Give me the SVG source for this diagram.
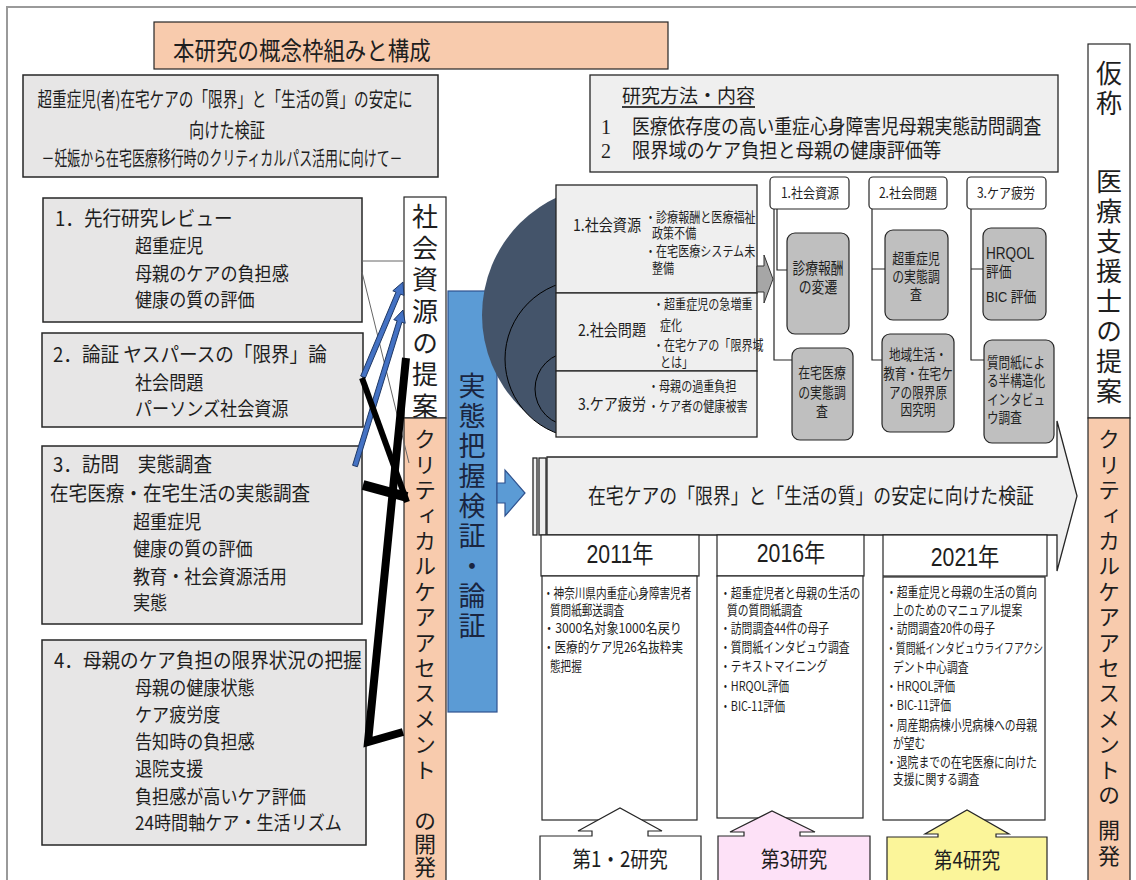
<svg xmlns="http://www.w3.org/2000/svg" width="1136" height="880" viewBox="0 0 1136 880">
<defs>
<style>
text { font-family: "Noto Sans CJK JP", "Noto Sans CJK SC", "Noto Sans", "DejaVu Sans", sans-serif; fill: #1e1e1e; }
.ser { font-family: "Liberation Serif", "Noto Sans CJK JP", serif; }
.yr { font-family: "Liberation Sans", "Noto Sans CJK JP", sans-serif; }
.box { fill: #e7e6e6; stroke: #262626; stroke-width: 1.5; }
.lbox { fill: #efefef; stroke: #262626; stroke-width: 1.3; }
.peach { fill: #f8cbad; stroke: #262626; stroke-width: 1.2; }
.white { fill: #ffffff; stroke: #262626; stroke-width: 1.2; }
.gbox { fill: #bfbfbf; stroke: #262626; stroke-width: 1.2; }
.vt { writing-mode: vertical-rl; }
.blk { stroke: #000; fill: none; }
.thin { stroke: #666; stroke-width: 1; fill: none; }
.con { stroke: #262626; stroke-width: 1.2; fill: none; }
.barrow { fill: #4472c4; stroke: #1f3864; stroke-width: 1; }
.semi { fill: #44546a; }
.semio { fill: #44546a; stroke: #000; stroke-width: 1; }
</style>
<clipPath id="lc"><rect x="0" y="0" width="557" height="880"/></clipPath>
</defs>
<rect width="1136" height="880" fill="#ffffff"/>
<rect x="7" y="7" width="1140" height="880" fill="none" stroke="#9a9a9a" stroke-width="2"/>

<g id="title">
<rect x="154" y="22" width="514" height="47" class="peach"/>
<text transform="translate(173 60) scale(0.86 1)" font-size="25">本研究の概念枠組みと構成</text>
</g>

<g id="subtitle">
<rect x="23" y="75" width="415" height="102" class="box"/>
<text x="225" y="107" font-size="20" text-anchor="middle" textLength="375" lengthAdjust="spacingAndGlyphs">超重症児(者)在宅ケアの「限界」と「生活の質」の安定に</text>
<text x="227" y="138" font-size="20" text-anchor="middle" textLength="76" lengthAdjust="spacingAndGlyphs">向けた検証</text>
<text x="222" y="166" font-size="20" text-anchor="middle" textLength="361" lengthAdjust="spacingAndGlyphs">－妊娠から在宅医療移行時のクリティカルパス活用に向けて－</text>
</g>

<g id="method">
<rect x="590" y="75" width="468" height="97" class="lbox"/>
<text x="622" y="103" font-size="19">研究方法・内容</text>
<line x1="622" y1="107" x2="755" y2="107" stroke="#000" stroke-width="1.5"/>
<text class="ser" x="601" y="134" font-size="20">1</text>
<text transform="translate(632 134) scale(0.89 1)" font-size="20">医療依存度の高い重症心身障害児母親実態訪問調査</text>
<text class="ser" x="601" y="158" font-size="20">2</text>
<text transform="translate(632 158) scale(0.91 1)" font-size="20">限界域のケア負担と母親の健康評価等</text>
</g>

<g id="review">
<rect x="43" y="198" width="319" height="124" class="box"/>
<text transform="translate(55 226) scale(0.93 1)" font-size="20">1．先行研究レビュー</text>
<text transform="translate(135 253) scale(0.9 1)" font-size="19">超重症児</text>
<text transform="translate(135 281) scale(0.9 1)" font-size="19">母親のケアの負担感</text>
<text transform="translate(135 307) scale(0.9 1)" font-size="19">健康の質の評価</text>
</g>

<g id="argument">
<rect x="42" y="333" width="321" height="94" class="box"/>
<text transform="translate(53 362) scale(0.93 1)" font-size="20">2．論証 ヤスパースの「限界」論</text>
<text transform="translate(135 390) scale(0.9 1)" font-size="19">社会問題</text>
<text transform="translate(135 416) scale(0.9 1)" font-size="19">パーソンズ社会資源</text>
</g>

<g id="visit">
<rect x="42" y="446" width="320" height="178" class="box"/>
<text transform="translate(53 472) scale(0.93 1)" font-size="20">3．訪問　実態調査</text>
<text transform="translate(50 501) scale(0.93 1)" font-size="20">在宅医療・在宅生活の実態調査</text>
<text transform="translate(133 529) scale(0.9 1)" font-size="19">超重症児</text>
<text transform="translate(133 556) scale(0.9 1)" font-size="19">健康の質の評価</text>
<text transform="translate(133 584) scale(0.9 1)" font-size="19">教育・社会資源活用</text>
<text transform="translate(133 610) scale(0.9 1)" font-size="19">実態</text>
</g>

<g id="limit">
<rect x="42" y="640" width="324" height="205" class="box"/>
<text transform="translate(54 668) scale(0.93 1)" font-size="20">4．母親のケア負担の限界状況の把握</text>
<text transform="translate(135 695) scale(0.9 1)" font-size="19">母親の健康状態</text>
<text transform="translate(135 722) scale(0.9 1)" font-size="19">ケア疲労度</text>
<text transform="translate(135 749) scale(0.9 1)" font-size="19">告知時の負担感</text>
<text transform="translate(135 776) scale(0.9 1)" font-size="19">退院支援</text>
<text transform="translate(135 804) scale(0.9 1)" font-size="19">負担感が高いケア評価</text>
<text transform="translate(135 830) scale(0.9 1)" font-size="19">24時間軸ケア・生活リズム</text>
</g>

<g id="col-resource">
<rect x="404" y="197" width="42" height="221" class="white"/>
<text class="vt" x="425" y="203" font-size="26" letter-spacing="5.7">社会資源の提案</text>
</g>
<g id="col-assess">
<rect x="404" y="418" width="42" height="470" class="peach"/>
<text class="vt" x="425" y="428" font-size="22" letter-spacing="3.4">クリティカルケアアセスメント</text>
<text class="vt" x="425" y="810" font-size="22" letter-spacing="1">の開発</text>
</g>
<g id="col-verify">
<rect x="448" y="291" width="49" height="421" fill="#5b9bd5" stroke="#2f528f" stroke-width="1.2"/>
<text class="vt" x="472" y="372" font-size="27" letter-spacing="3" style="fill:#1a2540">実態把握検証・論証</text>
<polygon points="497,483 505,483 505,470 525,493 505,516 505,503 497,503" fill="#5b9bd5" stroke="#2f528f" stroke-width="1.2"/>
</g>

<g id="connectors">
<line x1="362" y1="261" x2="403" y2="261" class="thin"/>
<line x1="362" y1="272" x2="409" y2="463" class="thin"/>
<polygon class="barrow" points="365.3,378 400.6,294.1 403.9,295.4 403,282 392.8,290.8 396,292.1 360.7,376"/>
<polygon class="barrow" points="357.4,466.7 401.9,322.2 405.2,323.3 403,310 393.8,319.7 397.1,320.8 352.6,465.3"/>
<line x1="362" y1="378" x2="407" y2="502" class="blk" stroke-width="6"/>
<polyline points="406,358 368,742 403,732" class="blk" stroke-width="8"/>
<line x1="363" y1="485" x2="407" y2="497" class="blk" stroke-width="10"/>
</g>

<g id="semicircles" clip-path="url(#lc)">
<circle cx="612" cy="315" r="130" class="semi"/>
<circle cx="584" cy="359" r="79" class="semio"/>
<circle cx="572" cy="389" r="37" class="semio"/>
</g>

<g id="issue-resource">
<rect x="556" y="185" width="201" height="108" class="lbox"/>
<text transform="translate(573 231) scale(0.88 1)" font-size="16">1.社会資源</text>
<text transform="translate(645 222) scale(0.82 1)" font-size="13.5">・診療報酬と医療福祉</text>
<text transform="translate(652 238) scale(0.82 1)" font-size="13.5">政策不備</text>
<text transform="translate(645 256) scale(0.82 1)" font-size="13.5">・在宅医療システム未</text>
<text transform="translate(652 273) scale(0.82 1)" font-size="13.5">整備</text>
</g>
<g id="issue-social">
<rect x="556" y="293" width="201" height="78" class="lbox"/>
<text transform="translate(578 336) scale(0.88 1)" font-size="16">2.社会問題</text>
<text transform="translate(653 309) scale(0.82 1)" font-size="13.5">・超重症児の急増重</text>
<text transform="translate(660 330) scale(0.82 1)" font-size="13.5">症化</text>
<text transform="translate(653 350) scale(0.82 1)" font-size="13.5">・在宅ケアの「限界域</text>
<text transform="translate(660 367) scale(0.82 1)" font-size="13.5">とは」</text>
</g>
<g id="issue-fatigue">
<rect x="556" y="371" width="201" height="66" class="lbox"/>
<text transform="translate(578 410) scale(0.88 1)" font-size="16">3.ケア疲労</text>
<text transform="translate(648 391) scale(0.82 1)" font-size="13.5">・母親の過重負担</text>
<text transform="translate(648 411) scale(0.82 1)" font-size="13.5">・ケア者の健康被害</text>
</g>
<g id="gray-arrow">
<polygon points="757,266 764,266 764,255 773,279 764,303 764,292 757,292" fill="#a6a6a6" stroke="#333" stroke-width="1"/>
</g>

<g id="tree-lines">
<path class="con" d="M777 209 V270 H787 M774 209 V360 H792 M872 209 V360 H888 M872 269 H885 M971 209 V360 H984 M971 269 H983"/>
</g>
<g id="h-resource">
<rect x="770" y="177" width="79" height="32" rx="4" class="white"/>
<text transform="translate(810 198) scale(0.86 1)" font-size="14" text-anchor="middle">1.社会資源</text>
</g>
<g id="h-social">
<rect x="869" y="177" width="78" height="32" rx="4" class="white"/>
<text transform="translate(908 198) scale(0.86 1)" font-size="14" text-anchor="middle">2.社会問題</text>
</g>
<g id="h-fatigue">
<rect x="967" y="177" width="79" height="32" rx="4" class="white"/>
<text transform="translate(1006 198) scale(0.86 1)" font-size="14" text-anchor="middle">3.ケア疲労</text>
</g>
<g id="c-fee">
<rect x="787" y="233" width="62" height="101" rx="8" class="gbox"/>
<text transform="translate(818 274) scale(0.8 1)" font-size="16" text-anchor="middle">診療報酬</text>
<text transform="translate(818 293) scale(0.8 1)" font-size="16" text-anchor="middle">の変遷</text>
</g>
<g id="c-homecare">
<rect x="792" y="348" width="61" height="92" rx="8" class="gbox"/>
<text transform="translate(822 378) scale(0.82 1)" font-size="14.5" text-anchor="middle">在宅医療</text>
<text transform="translate(822 398) scale(0.82 1)" font-size="14.5" text-anchor="middle">の実態調</text>
<text transform="translate(822 417) scale(0.82 1)" font-size="14.5" text-anchor="middle">査</text>
</g>
<g id="c-survey">
<rect x="885" y="230" width="63" height="90" rx="8" class="gbox"/>
<text transform="translate(916 264) scale(0.82 1)" font-size="14.5" text-anchor="middle">超重症児</text>
<text transform="translate(916 282) scale(0.82 1)" font-size="14.5" text-anchor="middle">の実態調</text>
<text transform="translate(916 300) scale(0.82 1)" font-size="14.5" text-anchor="middle">査</text>
</g>
<g id="c-region">
<rect x="882" y="334" width="72" height="98" rx="8" class="gbox"/>
<text transform="translate(918 360) scale(0.8 1)" font-size="14.5" text-anchor="middle">地域生活・</text>
<text transform="translate(918 379) scale(0.8 1)" font-size="14.5" text-anchor="middle">教育・在宅ケ</text>
<text transform="translate(918 398) scale(0.8 1)" font-size="14.5" text-anchor="middle">アの限界原</text>
<text transform="translate(918 415) scale(0.8 1)" font-size="14.5" text-anchor="middle">因究明</text>
</g>
<g id="c-hrqol">
<rect x="983" y="228" width="63" height="92" rx="8" class="gbox"/>
<text class="yr" transform="translate(986 259) scale(0.85 1)" font-size="16">HRQOL</text>
<text transform="translate(986 277) scale(0.85 1)" font-size="15">評価</text>
<text class="yr" transform="translate(986 302) scale(0.85 1)" font-size="15">BIC 評価</text>
</g>
<g id="c-interview">
<rect x="984" y="340" width="70" height="103" rx="8" class="gbox"/>
<text transform="translate(987 368) scale(0.8 1)" font-size="14.5">質問紙によ</text>
<text transform="translate(987 386) scale(0.8 1)" font-size="14.5">る半構造化</text>
<text transform="translate(987 405) scale(0.8 1)" font-size="14.5">インタビュ</text>
<text transform="translate(987 423) scale(0.8 1)" font-size="14.5">ウ調査</text>
</g>

<g id="banner">
<rect x="533" y="458" width="4" height="77" class="lbox"/>
<rect x="539" y="458" width="7" height="77" class="lbox"/>
<polygon points="547,457 1057,457 1057,421 1077,496 1057,571 1057,535 547,535" class="lbox"/>
<text transform="translate(588 503) scale(0.85 1)" font-size="21">在宅ケアの「限界」と「生活の質」の安定に向けた検証</text>
</g>

<g id="y2011">
<rect x="541" y="535" width="158" height="41" class="white"/>
<text class="yr" transform="translate(620 563) scale(0.85 1)" font-size="25" text-anchor="middle">2011年</text>
<rect x="542" y="576" width="155" height="244" class="white"/>
<text transform="translate(543 598) scale(0.785 1)" font-size="13.5">・神奈川県内重症心身障害児者</text>
<text transform="translate(550 615) scale(0.785 1)" font-size="13.5">質問紙郵送調査</text>
<text x="543" y="633" font-size="13.5" textLength="139" lengthAdjust="spacingAndGlyphs">・3000名対象1000名戻り</text>
<text x="543" y="652" font-size="13.5" textLength="140" lengthAdjust="spacingAndGlyphs">・医療的ケア児26名抜粋実</text>
<text transform="translate(550 671) scale(0.785 1)" font-size="13.5">態把握</text>
</g>
<g id="y2016">
<rect x="717" y="535" width="147" height="41" class="white"/>
<text class="yr" transform="translate(791 562) scale(0.85 1)" font-size="25" text-anchor="middle">2016年</text>
<rect x="717" y="576" width="146" height="242" class="white"/>
<text transform="translate(720 598) scale(0.8 1)" font-size="13.5">・超重症児者と母親の生活の</text>
<text transform="translate(727 615) scale(0.8 1)" font-size="13.5">質の質問紙調査</text>
<text transform="translate(720 633) scale(0.8 1)" font-size="13.5">・訪問調査44件の母子</text>
<text transform="translate(720 652) scale(0.8 1)" font-size="13.5">・質問紙インタビュウ調査</text>
<text transform="translate(720 671) scale(0.8 1)" font-size="13.5">・テキストマイニング</text>
<text transform="translate(720 691) scale(0.8 1)" font-size="13.5">・HRQOL評価</text>
<text transform="translate(720 711) scale(0.8 1)" font-size="13.5">・BIC-11評価</text>
</g>
<g id="y2021">
<rect x="883" y="535" width="164" height="41" class="white"/>
<text class="yr" transform="translate(965 566) scale(0.85 1)" font-size="25" text-anchor="middle">2021年</text>
<rect x="883" y="577" width="162" height="243" class="white"/>
<text transform="translate(886 597) scale(0.8 1)" font-size="13.5">・超重症児と母親の生活の質向</text>
<text transform="translate(893 615) scale(0.8 1)" font-size="13.5">上のためのマニュアル提案</text>
<text transform="translate(886 633) scale(0.8 1)" font-size="13.5">・訪問調査20件の母子</text>
<text x="886" y="653" font-size="13.5" textLength="157" lengthAdjust="spacingAndGlyphs">・質問紙インタビュウライフアクシ</text>
<text transform="translate(893 672) scale(0.8 1)" font-size="13.5">デント中心調査</text>
<text transform="translate(886 691) scale(0.8 1)" font-size="13.5">・HRQOL評価</text>
<text transform="translate(886 710) scale(0.8 1)" font-size="13.5">・BIC-11評価</text>
<text transform="translate(886 730) scale(0.8 1)" font-size="13.5">・周産期病棟小児病棟への母親</text>
<text transform="translate(893 748) scale(0.8 1)" font-size="13.5">が望む</text>
<text transform="translate(886 767) scale(0.8 1)" font-size="13.5">・退院までの在宅医療に向けた</text>
<text transform="translate(893 784) scale(0.8 1)" font-size="13.5">支援に関する調査</text>
</g>

<g id="study12">
<polygon points="540,836 592,836 592,831 578,831 620,808 662,831 648,831 648,836 701,836 701,884 540,884" fill="#ffffff" stroke="#262626" stroke-width="1.2"/>
<text transform="translate(620 867) scale(0.85 1)" font-size="22" text-anchor="middle">第1・2研究</text>
</g>
<g id="study3">
<polygon points="718,836 744,836 744,832 730,832 772,811 815,832 800,832 800,836 870,836 870,884 718,884" fill="#fde1f7" stroke="#262626" stroke-width="1.2"/>
<text transform="translate(794 867) scale(0.85 1)" font-size="22" text-anchor="middle">第3研究</text>
</g>
<g id="study4">
<polygon points="887,837 938,837 938,834 925,834 967,810 1009,834 996,834 996,837 1047,837 1047,884 887,884" fill="#fbf59a" stroke="#262626" stroke-width="1.2"/>
<text transform="translate(967 868) scale(0.85 1)" font-size="22" text-anchor="middle">第4研究</text>
</g>

<g id="col-proposal">
<rect x="1088" y="44" width="42" height="374" class="white"/>
<text class="vt" x="1109" y="60" font-size="26" letter-spacing="4">仮称</text>
<text class="vt" x="1109" y="168" font-size="26" letter-spacing="4">医療支援士の提案</text>
</g>
<g id="col-assess-right">
<rect x="1088" y="418" width="42" height="470" class="peach"/>
<text class="vt" x="1109" y="428" font-size="22" letter-spacing="3.4">クリティカルケアアセスメントの</text>
<text class="vt" x="1109" y="819" font-size="22" letter-spacing="4">開発</text>
</g>
</svg>
